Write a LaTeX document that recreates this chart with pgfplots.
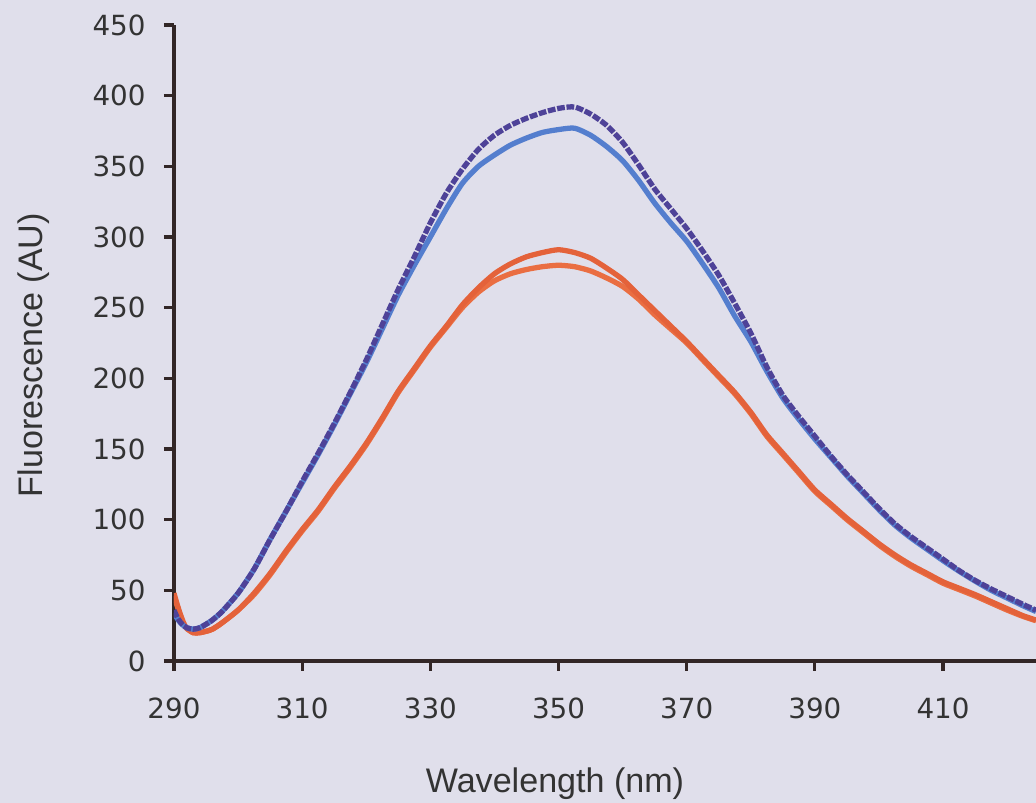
\documentclass[border=0pt]{standalone}
\usepackage{pgfplots}
\pgfplotsset{compat=1.18}
\usepackage{fontspec}
\setmainfont{Liberation Sans}
\newfontfamily\tickfont{DejaVu Sans}
\definecolor{bgc}{RGB}{224,223,235}
\definecolor{axc}{RGB}{50,38,38}
\definecolor{dblue}{RGB}{78,66,152}
\definecolor{lblue}{RGB}{84,126,206}
\definecolor{orA}{RGB}{228,98,58}
\definecolor{orB}{RGB}{234,110,66}
\begin{document}
\begin{tikzpicture}
\fill[bgc] (-17.4mm,-14.2mm) rectangle (86.2mm,66.1mm);
\useasboundingbox (-17.4mm,-14.2mm) rectangle (86.2mm,66.1mm);
\begin{axis}[
  at={(0,0)}, anchor=south west,
  scale only axis, width=86.2mm, height=63.6mm,
  xmin=290, xmax=424.5, ymin=0, ymax=450,
  axis x line*=bottom, axis y line*=left,
  axis line style={draw=axc, line width=0.9pt},
  xtick={290,310,...,410}, ytick={0,50,...,450},
  tick pos=left, tick align=outside, major tick length=1mm,
  tick style={draw=axc, line width=0.9pt},
  /pgf/number format/assume math mode=true,
  ticklabel style={font=\tickfont\fontsize{7.9}{9.5}\selectfont, text=black!80},
  yticklabel style={xshift=-0.6mm},
  xticklabel style={yshift=-1.4mm},
  xlabel={Wavelength (nm)}, ylabel={Fluorescence (AU)},
  label style={font=\fontsize{9.7}{11}\selectfont, text=black!80},
  xlabel style={at={(axis description cs:0.442,0)}, anchor=base, yshift=-13.2mm},
  ylabel style={at={(axis description cs:-0.1531,0.481)}, anchor=base, rotate=0},
  clip=true,
  every axis plot/.append style={smooth, tension=0.4},
]
\addplot[orB, line width=1.5pt] coordinates {
(290,46)(290.5,39)(291,32)(291.5,26)(292,23)(293,20)(294,20)(295,21)(296,22.5)(297.5,27)
(300,36)(302.5,47)(305,61)(307.5,77)(310,92)(312.5,106)(315,122)(317.5,137)(320,153)
(322.5,171)(325,190)(327.5,206)(330,222)(332.5,236)(335,250)(337.5,261)(340,269)
(342.5,274)(345,277)(347.5,279)(350,280)(352.5,279)(355,276)(357.5,271)(360,265)
(362.5,256)(365,245)(367.5,235)(370,225)(372.5,213)(375,201)(377.5,189)(380,175)
(382.5,159)(385,146)(387.5,133)(390,120)(392.5,110)(395,100)(397.5,91)(400,82)
(402.5,74)(405,67)(407.5,61)(410,55)(412.5,50.5)(415,46)(417.5,41)(420,36)(422.5,31.5)(424.5,28.5)
};
\addplot[orA, line width=1.5pt] coordinates {
(290,48)(290.5,40)(291,33)(291.5,27)(292,23)(293,20)(294,20)(295,21)(296,22.5)(297.5,27)
(300,36)(302.5,48)(305,62)(307.5,78)(310,93)(312.5,107)(315,123)(317.5,138)(320,154)
(322.5,172)(325,191)(327.5,207)(330,223)(332.5,237)(335,252)(337.5,264)(340,274)
(342.5,281)(345,286)(347.5,289)(350,291)(352.5,289)(355,285)(357.5,278)(360,270)
(362.5,259)(365,248)(367.5,237)(370,226)(372.5,214)(375,202)(377.5,190)(380,176)
(382.5,160)(385,147)(387.5,134)(390,121)(392.5,111)(395,101)(397.5,92)(400,83)
(402.5,75)(405,68)(407.5,62)(410,56)(412.5,51.5)(415,47)(417.5,42)(420,37)(422.5,32)(424.5,29)
};
\addplot[lblue, line width=1.5pt] coordinates {
(290,34)(290.5,30)(291,27)(291.5,25)(292,23.5)(293,22.5)(294,23.5)(295,26)(296,29)(297.5,35)
(300,48)(302.5,65)(305,86)(307.5,106)(310,126)(312.5,146)(315,167)(317.5,189)(320,211)
(322.5,235)(325,259)(327.5,280)(330,300)(332.5,320)(335,338)(337.5,350)(340,358)
(342.5,365)(345,370)(347.5,374)(350,376)(352.5,377)(355,372)(357.5,364)(360,354)
(362.5,340)(365,324)(367.5,310)(370,297)(372.5,281)(375,264)(377.5,244)(380,226)
(382.5,205)(385,186)(387.5,171)(390,157)(392.5,144)(395,131)(397.5,119)(400,107)
(402.5,96)(405,87)(407.5,79)(410,71)(412.5,63.5)(415,56.5)(417.5,50)(420,44.5)(422.5,39)(424.5,35)
};
\addplot[dblue, line width=1.5pt, dash pattern=on 2.2pt off 0.5pt] coordinates {
(290,36)(290.5,31)(291,27.5)(291.5,25)(292,23.5)(293,22.5)(294,23.5)(295,26)(296,29)(297.5,35)
(300,48)(302.5,65)(305,86)(307.5,106)(310,127)(312.5,147)(315,168)(317.5,190)(320,213)
(322.5,238)(325,263)(327.5,286)(330,310)(332.5,331)(335,348)(337.5,362)(340,372)
(342.5,379)(345,384)(347.5,388)(350,391)(352.5,392)(355,387)(357.5,379)(360,367)
(362.5,351)(365,334)(367.5,320)(370,306)(372.5,290)(375,273)(377.5,253)(380,232)
(382.5,208)(385,188)(387.5,173)(390,159)(392.5,145)(395,132)(397.5,120)(400,108)
(402.5,97)(405,88)(407.5,80)(410,72)(412.5,64)(415,57)(417.5,51)(420,45.5)(422.5,40)(424.5,36)
};
\end{axis}
\end{tikzpicture}
\end{document}
